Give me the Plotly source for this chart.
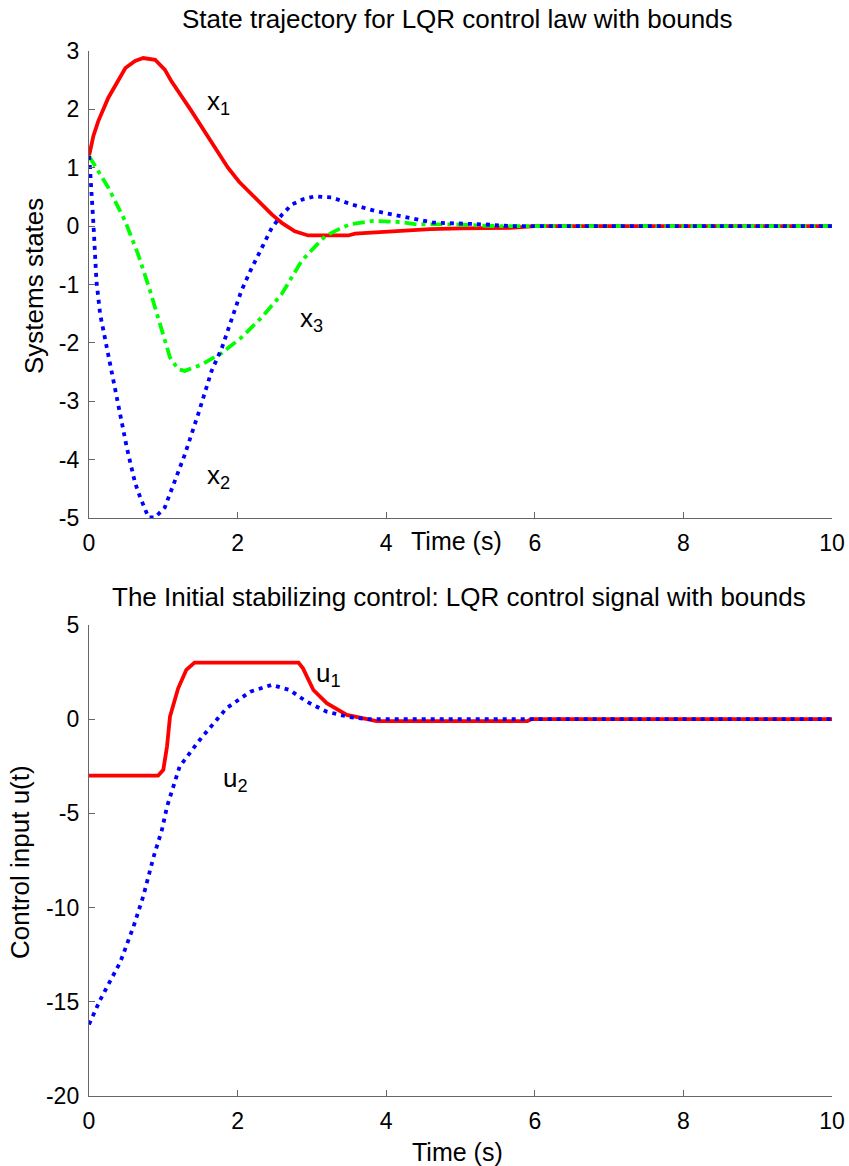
import plotly.graph_objects as go

# ---------------- data ----------------
x1_t = [0, 0.06, 0.125, 0.26, 0.49, 0.62, 0.73, 0.89, 1.02, 1.11, 1.38, 1.61, 1.87, 2.02, 2.19, 2.46, 2.6, 2.77,
        2.95, 3.49, 3.58, 3.85, 3.92, 4.3, 4.59, 5.0, 5.67, 6.0, 10]
x1_v = [1.2, 1.55, 1.8, 2.2, 2.71, 2.83, 2.88, 2.85, 2.68, 2.48, 1.97, 1.51, 1.0, 0.76, 0.54, 0.2, 0.05, -0.09,
        -0.16, -0.16, -0.13, -0.11, -0.1, -0.08, -0.05, -0.04, -0.03, 0, 0]

x2_t = [0, 0.013, 0.06, 0.1, 0.15, 0.215, 0.28, 0.37, 0.51, 0.62, 0.69, 0.80, 0.89, 1.02, 1.16, 1.29, 1.47, 1.65,
        1.79, 1.92, 2.05, 2.17, 2.28, 2.46, 2.6, 2.73, 2.88, 3.04, 3.27, 3.54, 3.85, 4.19, 4.63, 5.31, 5.7, 10]
x2_v = [1.2, 1.0, 0.03, -0.94, -1.51, -1.93, -2.37, -2.94, -3.8, -4.4, -4.65, -4.99, -4.99, -4.82, -4.37, -3.91,
        -3.22, -2.48, -2.08, -1.57, -1.11, -0.77, -0.48, -0.03, 0.2, 0.37, 0.46, 0.51, 0.49, 0.37, 0.26, 0.17, 0.06,
        0.03, 0, 0]

x3_t = [0, 0.26, 0.485, 0.66, 0.82, 0.98, 1.09, 1.2, 1.29, 1.52, 1.79, 2.05, 2.32, 2.59, 2.77, 2.86, 3.02, 3.18,
        3.35, 3.51, 3.83, 4.19, 4.41, 4.9, 5.5, 10]
x3_v = [1.2, 0.66, 0.09, -0.48, -1.1, -1.8, -2.25, -2.45, -2.48, -2.37, -2.17, -1.91, -1.57, -1.17, -0.77, -0.6,
        -0.38, -0.17, -0.06, 0.03, 0.09, 0.07, 0.03, 0.03, 0, 0]

u1_t = [0, 0.93, 1.0, 1.05, 1.09, 1.2, 1.31, 1.42, 2.82, 2.88, 3.02, 3.2, 3.47, 3.69, 3.87, 5.9, 5.95, 10]
u1_v = [-3, -3, -2.69, -1.45, 0.14, 1.64, 2.62, 3, 3, 2.7, 1.55, 0.85, 0.23, 0.05, -0.1, -0.1, 0, 0]

u2_t = [0, 0.15, 0.42, 0.6, 0.73, 0.87, 0.98, 1.05, 1.22, 1.49, 1.85, 2.17, 2.46, 2.7, 2.93, 3.2, 3.51, 3.75, 10]
u2_v = [-16.2, -14.9, -12.9, -11.0, -9.4, -7.3, -5.9, -4.64, -2.51, -1.1, 0.58, 1.46, 1.82, 1.55, 0.93, 0.40,
        0.11, 0, 0]

x_ticks = [0, 2, 4, 6, 8, 10]
x_tick_text = ["0", "2", "4", "6", "8", "10"]
top_y_ticks = [3, 2, 1, 0, -1, -2, -3, -4, -5]
top_y_tick_text = ["3", "2", "1", "0", "-1", "-2", "-3", "-4", "-5"]
bot_y_ticks = [5, 0, -5, -10, -15, -20]
bot_y_tick_text = ["5", "0", "-5", "-10", "-15", "-20"]

top_title = "State trajectory for LQR control law with bounds"
bot_title = "The Initial stabilizing control: LQR control signal with bounds"
top_ylabel = "Systems states"
bot_ylabel = "Control input u(t)"
xlabel = "Time (s)"

# ---------------- figure ----------------
W, H = 849, 1166
FONT = "Liberation Sans, Arial, sans-serif"
FS = 23

def px(x):
    return x / W

def py(y):
    return 1 - y / H

fig = go.Figure()

RED = "#ff0000"
BLUE = "#0000ff"
GREEN = "#00ff00"
LW = 3.8

fig.add_trace(go.Scatter(x=x1_t, y=x1_v, mode="lines", line=dict(color=RED, width=LW),
                         xaxis="x", yaxis="y", showlegend=False, hoverinfo="skip"))
fig.add_trace(go.Scatter(x=x3_t, y=x3_v, mode="lines", line=dict(color=GREEN, width=LW, dash="12px,5px,4px,5px"),
                         xaxis="x", yaxis="y", showlegend=False, hoverinfo="skip"))
fig.add_trace(go.Scatter(x=x2_t, y=x2_v, mode="lines", line=dict(color=BLUE, width=LW, dash="4px,5px"),
                         xaxis="x", yaxis="y", showlegend=False, hoverinfo="skip"))

fig.add_trace(go.Scatter(x=u1_t, y=u1_v, mode="lines", line=dict(color=RED, width=LW),
                         xaxis="x2", yaxis="y2", showlegend=False, hoverinfo="skip"))
fig.add_trace(go.Scatter(x=u2_t, y=u2_v, mode="lines", line=dict(color=BLUE, width=LW, dash="4px,5px"),
                         xaxis="x2", yaxis="y2", showlegend=False, hoverinfo="skip"))

AX = dict(showgrid=False, zeroline=False, showline=True, linecolor="#666666", linewidth=1.2,
          ticks="inside", ticklen=6, tickcolor="#666666", tickwidth=1,
          tickfont=dict(family=FONT, size=FS, color="black"), automargin=False,
          tickmode="array", ticklabelstandoff=4)

xdom = [px(89), px(832)]
fig.update_layout(
    width=W, height=H, autosize=False,
    margin=dict(l=0, r=0, t=0, b=0),
    paper_bgcolor="white", plot_bgcolor="white",
    xaxis=dict(domain=xdom, range=[0, 10], tickvals=x_ticks, ticktext=x_tick_text, anchor="y", **AX),
    yaxis=dict(domain=[py(518), py(51)], range=[-5, 3], tickvals=top_y_ticks, ticktext=top_y_tick_text,
               anchor="x", **AX),
    xaxis2=dict(domain=xdom, range=[0, 10], tickvals=x_ticks, ticktext=x_tick_text, anchor="y2", **AX),
    yaxis2=dict(domain=[py(1096), py(625)], range=[-20, 5], tickvals=bot_y_ticks, ticktext=bot_y_tick_text,
                anchor="x2", **AX),
)

ann = []
def text_paper(x, y, s, size=FS, angle=0):
    ann.append(dict(x=px(x), y=py(y), xref="paper", yref="paper", text=s, showarrow=False,
                    xanchor="center", yanchor="middle", textangle=angle,
                    font=dict(family=FONT, size=size, color="black")))

text_paper(458, 19, top_title, size=26)
text_paper(459, 597, bot_title, size=26)
text_paper(456, 541, xlabel, size=25)
text_paper(458, 1152, xlabel, size=25)
text_paper(34, 286, top_ylabel, size=26, angle=-90)
text_paper(20, 862, bot_ylabel, size=26, angle=-90)

def text_data(xr, yr, x, y, s):
    ann.append(dict(x=x, y=y, xref=xr, yref=yr, text=s, showarrow=False,
                    xanchor="center", yanchor="middle",
                    font=dict(family=FONT, size=26, color="black")))

text_data("x", "y", 1.74, 2.11, "x<sub>1</sub>")
text_data("x", "y", 1.74, -4.29, "x<sub>2</sub>")
text_data("x", "y", 2.99, -1.6, "x<sub>3</sub>")
text_data("x2", "y2", 3.23, 2.38, "u<sub>1</sub>")
text_data("x2", "y2", 1.97, -3.2, "u<sub>2</sub>")

fig.update_layout(annotations=ann, hovermode=False)
fig.write_html("out.html",
               config={"displayModeBar": False, "staticPlot": True},
               post_script="document.body.style.margin='0';document.body.style.overflow='hidden';")
